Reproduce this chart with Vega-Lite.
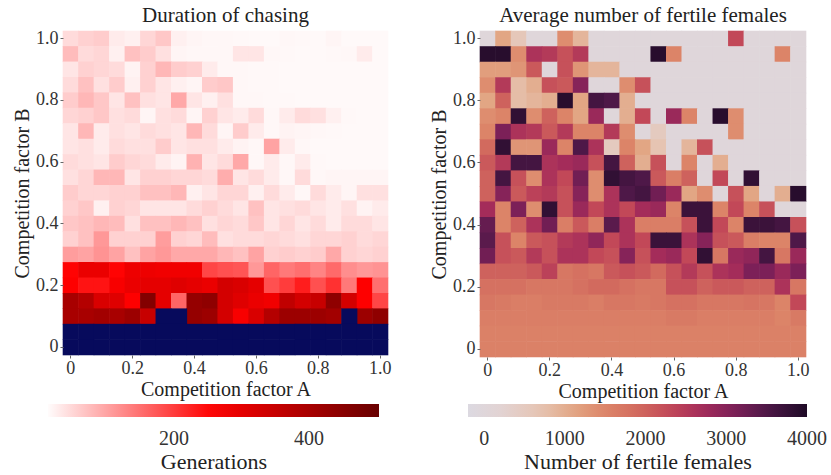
{
"$schema": "https://vega.github.io/schema/vega-lite/v6.json",
"padding": {"left": 12, "top": 5, "right": 2, "bottom": 0},
"data": {"values": [
{"a":0,"b":1,"g":45,"f":0},{"a":0.05,"b":1,"g":55,"f":1100},{"a":0.1,"b":1,"g":60,"f":600},{"a":0.15,"b":1,"g":30,"f":0},{"a":0.2,"b":1,"g":25,"f":0},{"a":0.25,"b":1,"g":50,"f":1400},{"a":0.3,"b":1,"g":65,"f":900},{"a":0.35,"b":1,"g":25,"f":0},{"a":0.4,"b":1,"g":20,"f":0},{"a":0.45,"b":1,"g":18,"f":0},{"a":0.5,"b":1,"g":18,"f":0},{"a":0.55,"b":1,"g":17,"f":0},{"a":0.6,"b":1,"g":16,"f":0},{"a":0.65,"b":1,"g":16,"f":0},{"a":0.7,"b":1,"g":18,"f":0},{"a":0.75,"b":1,"g":17,"f":0},{"a":0.8,"b":1,"g":16,"f":2300},{"a":0.85,"b":1,"g":20,"f":0},{"a":0.9,"b":1,"g":16,"f":0},{"a":0.95,"b":1,"g":16,"f":0},{"a":1,"b":1,"g":16,"f":0},
{"a":0,"b":0.95,"g":75,"f":3900},{"a":0.05,"b":0.95,"g":45,"f":3900},{"a":0.1,"b":0.95,"g":50,"f":1400},{"a":0.15,"b":0.95,"g":25,"f":2600},{"a":0.2,"b":0.95,"g":70,"f":2500},{"a":0.25,"b":0.95,"g":60,"f":2200},{"a":0.3,"b":0.95,"g":40,"f":2500},{"a":0.35,"b":0.95,"g":20,"f":0},{"a":0.4,"b":0.95,"g":18,"f":0},{"a":0.45,"b":0.95,"g":18,"f":0},{"a":0.5,"b":0.95,"g":18,"f":0},{"a":0.55,"b":0.95,"g":35,"f":3900},{"a":0.6,"b":0.95,"g":35,"f":1500},{"a":0.65,"b":0.95,"g":18,"f":0},{"a":0.7,"b":0.95,"g":17,"f":0},{"a":0.75,"b":0.95,"g":16,"f":0},{"a":0.8,"b":0.95,"g":16,"f":0},{"a":0.85,"b":0.95,"g":17,"f":0},{"a":0.9,"b":0.95,"g":18,"f":0},{"a":0.95,"b":0.95,"g":30,"f":1500},{"a":1,"b":0.95,"g":16,"f":0},
{"a":0,"b":0.9,"g":35,"f":1200},{"a":0.05,"b":0.9,"g":55,"f":1200},{"a":0.1,"b":0.9,"g":50,"f":1300},{"a":0.15,"b":0.9,"g":45,"f":2100},{"a":0.2,"b":0.9,"g":22,"f":0},{"a":0.25,"b":0.9,"g":55,"f":2200},{"a":0.3,"b":0.9,"g":80,"f":1300},{"a":0.35,"b":0.9,"g":60,"f":900},{"a":0.4,"b":0.9,"g":55,"f":900},{"a":0.45,"b":0.9,"g":30,"f":0},{"a":0.5,"b":0.9,"g":18,"f":0},{"a":0.55,"b":0.9,"g":18,"f":0},{"a":0.6,"b":0.9,"g":17,"f":0},{"a":0.65,"b":0.9,"g":17,"f":0},{"a":0.7,"b":0.9,"g":16,"f":0},{"a":0.75,"b":0.9,"g":16,"f":0},{"a":0.8,"b":0.9,"g":16,"f":0},{"a":0.85,"b":0.9,"g":16,"f":0},{"a":0.9,"b":0.9,"g":16,"f":0},{"a":0.95,"b":0.9,"g":16,"f":0},{"a":1,"b":0.9,"g":16,"f":0},
{"a":0,"b":0.85,"g":45,"f":1400},{"a":0.05,"b":0.85,"g":70,"f":2500},{"a":0.1,"b":0.85,"g":40,"f":800},{"a":0.15,"b":0.85,"g":60,"f":1000},{"a":0.2,"b":0.85,"g":25,"f":2200},{"a":0.25,"b":0.85,"g":55,"f":2100},{"a":0.3,"b":0.85,"g":35,"f":3000},{"a":0.35,"b":0.85,"g":25,"f":0},{"a":0.4,"b":0.85,"g":20,"f":0},{"a":0.45,"b":0.85,"g":60,"f":1400},{"a":0.5,"b":0.85,"g":65,"f":2200},{"a":0.55,"b":0.85,"g":18,"f":0},{"a":0.6,"b":0.85,"g":17,"f":0},{"a":0.65,"b":0.85,"g":17,"f":0},{"a":0.7,"b":0.85,"g":16,"f":0},{"a":0.75,"b":0.85,"g":16,"f":0},{"a":0.8,"b":0.85,"g":16,"f":0},{"a":0.85,"b":0.85,"g":16,"f":0},{"a":0.9,"b":0.85,"g":16,"f":0},{"a":0.95,"b":0.85,"g":16,"f":0},{"a":1,"b":0.85,"g":16,"f":0},
{"a":0,"b":0.8,"g":60,"f":1100},{"a":0.05,"b":0.8,"g":80,"f":2000},{"a":0.1,"b":0.8,"g":65,"f":800},{"a":0.15,"b":0.8,"g":35,"f":900},{"a":0.2,"b":0.8,"g":70,"f":1000},{"a":0.25,"b":0.8,"g":40,"f":3900},{"a":0.3,"b":0.8,"g":35,"f":1100},{"a":0.35,"b":0.8,"g":95,"f":3600},{"a":0.4,"b":0.8,"g":35,"f":3500},{"a":0.45,"b":0.8,"g":25,"f":1000},{"a":0.5,"b":0.8,"g":40,"f":0},{"a":0.55,"b":0.8,"g":18,"f":0},{"a":0.6,"b":0.8,"g":18,"f":0},{"a":0.65,"b":0.8,"g":17,"f":0},{"a":0.7,"b":0.8,"g":17,"f":0},{"a":0.75,"b":0.8,"g":16,"f":0},{"a":0.8,"b":0.8,"g":16,"f":0},{"a":0.85,"b":0.8,"g":16,"f":0},{"a":0.9,"b":0.8,"g":16,"f":0},{"a":0.95,"b":0.8,"g":16,"f":0},{"a":1,"b":0.8,"g":16,"f":0},
{"a":0,"b":0.75,"g":50,"f":1400},{"a":0.05,"b":0.75,"g":55,"f":1500},{"a":0.1,"b":0.75,"g":65,"f":3800},{"a":0.15,"b":0.75,"g":40,"f":1400},{"a":0.2,"b":0.75,"g":45,"f":2000},{"a":0.25,"b":0.75,"g":20,"f":1500},{"a":0.3,"b":0.75,"g":40,"f":1100},{"a":0.35,"b":0.75,"g":45,"f":2800},{"a":0.4,"b":0.75,"g":20,"f":0},{"a":0.45,"b":0.75,"g":55,"f":1000},{"a":0.5,"b":0.75,"g":35,"f":2300},{"a":0.55,"b":0.75,"g":30,"f":0},{"a":0.6,"b":0.75,"g":45,"f":2800},{"a":0.65,"b":0.75,"g":18,"f":1500},{"a":0.7,"b":0.75,"g":30,"f":0},{"a":0.75,"b":0.75,"g":45,"f":3900},{"a":0.8,"b":0.75,"g":40,"f":1400},{"a":0.85,"b":0.75,"g":25,"f":0},{"a":0.9,"b":0.75,"g":17,"f":0},{"a":0.95,"b":0.75,"g":16,"f":0},{"a":1,"b":0.75,"g":16,"f":0},
{"a":0,"b":0.7,"g":35,"f":1500},{"a":0.05,"b":0.7,"g":80,"f":3100},{"a":0.1,"b":0.7,"g":30,"f":2600},{"a":0.15,"b":0.7,"g":40,"f":2500},{"a":0.2,"b":0.7,"g":35,"f":2100},{"a":0.25,"b":0.7,"g":45,"f":2500},{"a":0.3,"b":0.7,"g":40,"f":1500},{"a":0.35,"b":0.7,"g":35,"f":1500},{"a":0.4,"b":0.7,"g":80,"f":2500},{"a":0.45,"b":0.7,"g":45,"f":1400},{"a":0.5,"b":0.7,"g":20,"f":0},{"a":0.55,"b":0.7,"g":60,"f":500},{"a":0.6,"b":0.7,"g":30,"f":0},{"a":0.65,"b":0.7,"g":18,"f":0},{"a":0.7,"b":0.7,"g":22,"f":0},{"a":0.75,"b":0.7,"g":20,"f":0},{"a":0.8,"b":0.7,"g":18,"f":1400},{"a":0.85,"b":0.7,"g":17,"f":0},{"a":0.9,"b":0.7,"g":16,"f":0},{"a":0.95,"b":0.7,"g":16,"f":0},{"a":1,"b":0.7,"g":16,"f":0},
{"a":0,"b":0.65,"g":35,"f":1900},{"a":0.05,"b":0.65,"g":40,"f":3800},{"a":0.1,"b":0.65,"g":30,"f":1300},{"a":0.15,"b":0.65,"g":45,"f":1300},{"a":0.2,"b":0.65,"g":40,"f":2800},{"a":0.25,"b":0.65,"g":40,"f":1500},{"a":0.3,"b":0.65,"g":60,"f":3500},{"a":0.35,"b":0.65,"g":35,"f":2600},{"a":0.4,"b":0.65,"g":40,"f":500},{"a":0.45,"b":0.65,"g":40,"f":1500},{"a":0.5,"b":0.65,"g":30,"f":1100},{"a":0.55,"b":0.65,"g":22,"f":700},{"a":0.6,"b":0.65,"g":18,"f":0},{"a":0.65,"b":0.65,"g":100,"f":900},{"a":0.7,"b":0.65,"g":30,"f":2200},{"a":0.75,"b":0.65,"g":18,"f":0},{"a":0.8,"b":0.65,"g":16,"f":0},{"a":0.85,"b":0.65,"g":16,"f":0},{"a":0.9,"b":0.65,"g":16,"f":0},{"a":0.95,"b":0.65,"g":16,"f":0},{"a":1,"b":0.65,"g":16,"f":0},
{"a":0,"b":0.6,"g":45,"f":2100},{"a":0.05,"b":0.6,"g":40,"f":2500},{"a":0.1,"b":0.6,"g":35,"f":3600},{"a":0.15,"b":0.6,"g":60,"f":3600},{"a":0.2,"b":0.6,"g":50,"f":2600},{"a":0.25,"b":0.6,"g":45,"f":2700},{"a":0.3,"b":0.6,"g":30,"f":2800},{"a":0.35,"b":0.6,"g":22,"f":2200},{"a":0.4,"b":0.6,"g":85,"f":3600},{"a":0.45,"b":0.6,"g":35,"f":2000},{"a":0.5,"b":0.6,"g":45,"f":1000},{"a":0.55,"b":0.6,"g":95,"f":2200},{"a":0.6,"b":0.6,"g":18,"f":0},{"a":0.65,"b":0.6,"g":30,"f":1500},{"a":0.7,"b":0.6,"g":18,"f":0},{"a":0.75,"b":0.6,"g":30,"f":1000},{"a":0.8,"b":0.6,"g":17,"f":0},{"a":0.85,"b":0.6,"g":16,"f":0},{"a":0.9,"b":0.6,"g":16,"f":0},{"a":0.95,"b":0.6,"g":16,"f":0},{"a":1,"b":0.6,"g":16,"f":0},
{"a":0,"b":0.55,"g":40,"f":2000},{"a":0.05,"b":0.55,"g":50,"f":3600},{"a":0.1,"b":0.55,"g":80,"f":2200},{"a":0.15,"b":0.55,"g":80,"f":1400},{"a":0.2,"b":0.55,"g":35,"f":2600},{"a":0.25,"b":0.55,"g":55,"f":2300},{"a":0.3,"b":0.55,"g":55,"f":3200},{"a":0.35,"b":0.55,"g":50,"f":1400},{"a":0.4,"b":0.55,"g":50,"f":3800},{"a":0.45,"b":0.55,"g":45,"f":3600},{"a":0.5,"b":0.55,"g":90,"f":3500},{"a":0.55,"b":0.55,"g":35,"f":2100},{"a":0.6,"b":0.55,"g":45,"f":1600},{"a":0.65,"b":0.55,"g":30,"f":2000},{"a":0.7,"b":0.55,"g":18,"f":0},{"a":0.75,"b":0.55,"g":45,"f":2300},{"a":0.8,"b":0.55,"g":18,"f":0},{"a":0.85,"b":0.55,"g":20,"f":3800},{"a":0.9,"b":0.55,"g":20,"f":0},{"a":0.95,"b":0.55,"g":20,"f":0},{"a":1,"b":0.55,"g":20,"f":0},
{"a":0,"b":0.5,"g":60,"f":2000},{"a":0.05,"b":0.5,"g":50,"f":3000},{"a":0.1,"b":0.5,"g":50,"f":2100},{"a":0.15,"b":0.5,"g":55,"f":2400},{"a":0.2,"b":0.5,"g":55,"f":2500},{"a":0.25,"b":0.5,"g":70,"f":2200},{"a":0.3,"b":0.5,"g":70,"f":3000},{"a":0.35,"b":0.5,"g":80,"f":1400},{"a":0.4,"b":0.5,"g":25,"f":2600},{"a":0.45,"b":0.5,"g":35,"f":3500},{"a":0.5,"b":0.5,"g":50,"f":3600},{"a":0.55,"b":0.5,"g":50,"f":3200},{"a":0.6,"b":0.5,"g":25,"f":2800},{"a":0.65,"b":0.5,"g":45,"f":1100},{"a":0.7,"b":0.5,"g":30,"f":1400},{"a":0.75,"b":0.5,"g":18,"f":0},{"a":0.8,"b":0.5,"g":45,"f":2200},{"a":0.85,"b":0.5,"g":30,"f":1100},{"a":0.9,"b":0.5,"g":20,"f":0},{"a":0.95,"b":0.5,"g":40,"f":1000},{"a":1,"b":0.5,"g":40,"f":3900},
{"a":0,"b":0.45,"g":55,"f":2700},{"a":0.05,"b":0.45,"g":65,"f":1500},{"a":0.1,"b":0.45,"g":25,"f":3100},{"a":0.15,"b":0.45,"g":55,"f":1400},{"a":0.2,"b":0.45,"g":50,"f":3800},{"a":0.25,"b":0.45,"g":35,"f":2200},{"a":0.3,"b":0.45,"g":35,"f":2800},{"a":0.35,"b":0.45,"g":35,"f":2300},{"a":0.4,"b":0.45,"g":45,"f":2600},{"a":0.45,"b":0.45,"g":55,"f":2300},{"a":0.5,"b":0.45,"g":45,"f":2700},{"a":0.55,"b":0.45,"g":35,"f":2800},{"a":0.6,"b":0.45,"g":70,"f":1500},{"a":0.65,"b":0.45,"g":35,"f":3700},{"a":0.7,"b":0.45,"g":40,"f":3700},{"a":0.75,"b":0.45,"g":45,"f":1500},{"a":0.8,"b":0.45,"g":35,"f":2300},{"a":0.85,"b":0.45,"g":30,"f":1500},{"a":0.9,"b":0.45,"g":40,"f":2200},{"a":0.95,"b":0.45,"g":22,"f":0},{"a":1,"b":0.45,"g":30,"f":0},
{"a":0,"b":0.4,"g":65,"f":3300},{"a":0.05,"b":0.4,"g":70,"f":1500},{"a":0.1,"b":0.4,"g":80,"f":2000},{"a":0.15,"b":0.4,"g":75,"f":2600},{"a":0.2,"b":0.4,"g":40,"f":3200},{"a":0.25,"b":0.4,"g":70,"f":1600},{"a":0.3,"b":0.4,"g":70,"f":2100},{"a":0.35,"b":0.4,"g":80,"f":1600},{"a":0.4,"b":0.4,"g":70,"f":3400},{"a":0.45,"b":0.4,"g":40,"f":2600},{"a":0.5,"b":0.4,"g":50,"f":1600},{"a":0.55,"b":0.4,"g":45,"f":1600},{"a":0.6,"b":0.4,"g":65,"f":1600},{"a":0.65,"b":0.4,"g":35,"f":2200},{"a":0.7,"b":0.4,"g":50,"f":3700},{"a":0.75,"b":0.4,"g":35,"f":2300},{"a":0.8,"b":0.4,"g":45,"f":1500},{"a":0.85,"b":0.4,"g":30,"f":3700},{"a":0.9,"b":0.4,"g":45,"f":3700},{"a":0.95,"b":0.4,"g":45,"f":3600},{"a":1,"b":0.4,"g":35,"f":2200},
{"a":0,"b":0.35,"g":55,"f":3400},{"a":0.05,"b":0.35,"g":70,"f":2200},{"a":0.1,"b":0.35,"g":110,"f":1500},{"a":0.15,"b":0.35,"g":55,"f":2100},{"a":0.2,"b":0.35,"g":55,"f":2200},{"a":0.25,"b":0.35,"g":55,"f":2500},{"a":0.3,"b":0.35,"g":105,"f":2600},{"a":0.35,"b":0.35,"g":55,"f":2900},{"a":0.4,"b":0.35,"g":50,"f":2300},{"a":0.45,"b":0.35,"g":75,"f":2600},{"a":0.5,"b":0.35,"g":40,"f":2300},{"a":0.55,"b":0.35,"g":45,"f":3700},{"a":0.6,"b":0.35,"g":45,"f":3700},{"a":0.65,"b":0.35,"g":50,"f":2600},{"a":0.7,"b":0.35,"g":45,"f":3000},{"a":0.75,"b":0.35,"g":40,"f":2200},{"a":0.8,"b":0.35,"g":50,"f":2100},{"a":0.85,"b":0.35,"g":50,"f":1600},{"a":0.9,"b":0.35,"g":55,"f":1500},{"a":0.95,"b":0.35,"g":45,"f":1500},{"a":1,"b":0.35,"g":50,"f":3500},
{"a":0,"b":0.3,"g":105,"f":3200},{"a":0.05,"b":0.3,"g":100,"f":2200},{"a":0.1,"b":0.3,"g":115,"f":2100},{"a":0.15,"b":0.3,"g":100,"f":2500},{"a":0.2,"b":0.3,"g":70,"f":2200},{"a":0.25,"b":0.3,"g":100,"f":2600},{"a":0.3,"b":0.3,"g":110,"f":2600},{"a":0.35,"b":0.3,"g":95,"f":2300},{"a":0.4,"b":0.3,"g":95,"f":2200},{"a":0.45,"b":0.3,"g":95,"f":3000},{"a":0.5,"b":0.3,"g":80,"f":2200},{"a":0.55,"b":0.3,"g":70,"f":2700},{"a":0.6,"b":0.3,"g":100,"f":2800},{"a":0.65,"b":0.3,"g":55,"f":2300},{"a":0.7,"b":0.3,"g":60,"f":3800},{"a":0.75,"b":0.3,"g":55,"f":1700},{"a":0.8,"b":0.3,"g":60,"f":2800},{"a":0.85,"b":0.3,"g":95,"f":2900},{"a":0.9,"b":0.3,"g":55,"f":3600},{"a":0.95,"b":0.3,"g":50,"f":1700},{"a":1,"b":0.3,"g":55,"f":2800},
{"a":0,"b":0.25,"g":255,"f":2000},{"a":0.05,"b":0.25,"g":290,"f":2000},{"a":0.1,"b":0.25,"g":290,"f":2000},{"a":0.15,"b":0.25,"g":255,"f":2100},{"a":0.2,"b":0.25,"g":285,"f":2400},{"a":0.25,"b":0.25,"g":285,"f":1700},{"a":0.3,"b":0.25,"g":280,"f":1800},{"a":0.35,"b":0.25,"g":280,"f":1700},{"a":0.4,"b":0.25,"g":280,"f":2100},{"a":0.45,"b":0.25,"g":190,"f":2200},{"a":0.5,"b":0.25,"g":180,"f":2100},{"a":0.55,"b":0.25,"g":175,"f":1900},{"a":0.6,"b":0.25,"g":110,"f":2200},{"a":0.65,"b":0.25,"g":160,"f":2500},{"a":0.7,"b":0.25,"g":140,"f":2200},{"a":0.75,"b":0.25,"g":150,"f":2600},{"a":0.8,"b":0.25,"g":130,"f":2700},{"a":0.85,"b":0.25,"g":155,"f":3100},{"a":0.9,"b":0.25,"g":120,"f":3100},{"a":0.95,"b":0.25,"g":110,"f":2800},{"a":1,"b":0.25,"g":115,"f":3100},
{"a":0,"b":0.2,"g":260,"f":1800},{"a":0.05,"b":0.2,"g":240,"f":1800},{"a":0.1,"b":0.2,"g":240,"f":1800},{"a":0.15,"b":0.2,"g":270,"f":1700},{"a":0.2,"b":0.2,"g":290,"f":1700},{"a":0.25,"b":0.2,"g":300,"f":1700},{"a":0.3,"b":0.2,"g":300,"f":1800},{"a":0.35,"b":0.2,"g":310,"f":1900},{"a":0.4,"b":0.2,"g":300,"f":1900},{"a":0.45,"b":0.2,"g":290,"f":1800},{"a":0.5,"b":0.2,"g":330,"f":1700},{"a":0.55,"b":0.2,"g":320,"f":1700},{"a":0.6,"b":0.2,"g":300,"f":2200},{"a":0.65,"b":0.2,"g":180,"f":2200},{"a":0.7,"b":0.2,"g":200,"f":2000},{"a":0.75,"b":0.2,"g":230,"f":2100},{"a":0.8,"b":0.2,"g":180,"f":2100},{"a":0.85,"b":0.2,"g":210,"f":2000},{"a":0.9,"b":0.2,"g":140,"f":2000},{"a":0.95,"b":0.2,"g":260,"f":2600},{"a":1,"b":0.2,"g":150,"f":1700},
{"a":0,"b":0.15,"g":400,"f":1700},{"a":0.05,"b":0.15,"g":380,"f":1650},{"a":0.1,"b":0.15,"g":320,"f":1600},{"a":0.15,"b":0.15,"g":310,"f":1600},{"a":0.2,"b":0.15,"g":260,"f":1650},{"a":0.25,"b":0.15,"g":460,"f":1650},{"a":0.3,"b":0.15,"g":300,"f":1650},{"a":0.35,"b":0.15,"g":160,"f":1600},{"a":0.4,"b":0.15,"g":430,"f":1700},{"a":0.45,"b":0.15,"g":440,"f":1700},{"a":0.5,"b":0.15,"g":330,"f":1650},{"a":0.55,"b":0.15,"g":310,"f":1700},{"a":0.6,"b":0.15,"g":290,"f":1800},{"a":0.65,"b":0.15,"g":280,"f":1800},{"a":0.7,"b":0.15,"g":360,"f":1700},{"a":0.75,"b":0.15,"g":330,"f":1700},{"a":0.8,"b":0.15,"g":350,"f":1700},{"a":0.85,"b":0.15,"g":440,"f":1750},{"a":0.9,"b":0.15,"g":330,"f":1700},{"a":0.95,"b":0.15,"g":260,"f":1500},{"a":1,"b":0.15,"g":190,"f":2300},
{"a":0,"b":0.1,"g":400,"f":1600},{"a":0.05,"b":0.1,"g":400,"f":1600},{"a":0.1,"b":0.1,"g":410,"f":1600},{"a":0.15,"b":0.1,"g":400,"f":1600},{"a":0.2,"b":0.1,"g":420,"f":1600},{"a":0.25,"b":0.1,"g":350,"f":1600},{"a":0.3,"b":0.1,"g":null,"f":1600},{"a":0.35,"b":0.1,"g":null,"f":1600},{"a":0.4,"b":0.1,"g":430,"f":1600},{"a":0.45,"b":0.1,"g":420,"f":1600},{"a":0.5,"b":0.1,"g":330,"f":1600},{"a":0.55,"b":0.1,"g":270,"f":1600},{"a":0.6,"b":0.1,"g":320,"f":1650},{"a":0.65,"b":0.1,"g":380,"f":1650},{"a":0.7,"b":0.1,"g":420,"f":1600},{"a":0.75,"b":0.1,"g":420,"f":1600},{"a":0.8,"b":0.1,"g":420,"f":1600},{"a":0.85,"b":0.1,"g":410,"f":1600},{"a":0.9,"b":0.1,"g":null,"f":1600},{"a":0.95,"b":0.1,"g":420,"f":1500},{"a":1,"b":0.1,"g":440,"f":1650},
{"a":0,"b":0.05,"g":null,"f":1550},{"a":0.05,"b":0.05,"g":null,"f":1550},{"a":0.1,"b":0.05,"g":null,"f":1550},{"a":0.15,"b":0.05,"g":null,"f":1550},{"a":0.2,"b":0.05,"g":null,"f":1550},{"a":0.25,"b":0.05,"g":null,"f":1550},{"a":0.3,"b":0.05,"g":null,"f":1550},{"a":0.35,"b":0.05,"g":null,"f":1550},{"a":0.4,"b":0.05,"g":null,"f":1550},{"a":0.45,"b":0.05,"g":null,"f":1550},{"a":0.5,"b":0.05,"g":null,"f":1550},{"a":0.55,"b":0.05,"g":null,"f":1550},{"a":0.6,"b":0.05,"g":null,"f":1550},{"a":0.65,"b":0.05,"g":null,"f":1550},{"a":0.7,"b":0.05,"g":null,"f":1550},{"a":0.75,"b":0.05,"g":null,"f":1550},{"a":0.8,"b":0.05,"g":null,"f":1550},{"a":0.85,"b":0.05,"g":null,"f":1550},{"a":0.9,"b":0.05,"g":null,"f":1550},{"a":0.95,"b":0.05,"g":null,"f":1550},{"a":1,"b":0.05,"g":null,"f":1550},
{"a":0,"b":0,"g":null,"f":1550},{"a":0.05,"b":0,"g":null,"f":1550},{"a":0.1,"b":0,"g":null,"f":1550},{"a":0.15,"b":0,"g":null,"f":1550},{"a":0.2,"b":0,"g":null,"f":1550},{"a":0.25,"b":0,"g":null,"f":1550},{"a":0.3,"b":0,"g":null,"f":1550},{"a":0.35,"b":0,"g":null,"f":1550},{"a":0.4,"b":0,"g":null,"f":1550},{"a":0.45,"b":0,"g":null,"f":1550},{"a":0.5,"b":0,"g":null,"f":1550},{"a":0.55,"b":0,"g":null,"f":1550},{"a":0.6,"b":0,"g":null,"f":1550},{"a":0.65,"b":0,"g":null,"f":1550},{"a":0.7,"b":0,"g":null,"f":1550},{"a":0.75,"b":0,"g":null,"f":1550},{"a":0.8,"b":0,"g":null,"f":1550},{"a":0.85,"b":0,"g":null,"f":1550},{"a":0.9,"b":0,"g":null,"f":1550},{"a":0.95,"b":0,"g":null,"f":1550},{"a":1,"b":0,"g":null,"f":1550}
]},
"config": {
  "font": "Liberation Serif, serif",
  "view": {"stroke": null},
  "scale": {"bandPaddingInner": 0, "bandPaddingOuter": 0},
  "title": {"font": "Liberation Serif, serif", "fontSize": 21, "fontWeight": "normal", "color": "#222", "offset": 3, "anchor": "middle"},
  "axis": {"labelFont": "Liberation Serif, serif", "titleFont": "Liberation Serif, serif", "labelFontSize": 18, "labelColor": "#333", "titleFontSize": 20, "titleFontWeight": "normal", "titleColor": "#222", "tickSize": 3, "tickColor": "#666", "domain": false, "grid": false, "labelPadding": 2, "titlePadding": 3},
  "axisX": {"labelAngle": 0, "labelPadding": 1, "titlePadding": 2},
  "legend": {"orient": "none", "direction": "horizontal", "padding": 0, "gradientThickness": 13, "gradientStrokeWidth": 0, "labelFont": "Liberation Serif, serif", "titleFont": "Liberation Serif, serif", "labelFontSize": 20, "labelColor": "#333", "titleFontSize": 22, "titleFontWeight": "normal", "titleColor": "#222", "titleOrient": "bottom", "titleAnchor": "middle", "titleLimit": 0, "labelAlign": "center", "titlePadding": 3}
},
"spacing": 37,
"resolve": {"scale": {"color": "independent"}},
"hconcat": [
  {
    "width": 325, "height": 324,
    "title": "Duration of chasing",
    "encoding": {
      "x": {"field": "a", "type": "ordinal", "scale": {"round": false}, "axis": {"values": [0, 0.2, 0.4, 0.6, 0.8, 1], "labelExpr": "datum.value == 1 ? '1.0' : datum.label", "title": "Competition factor A"}},
      "y": {"field": "b", "type": "ordinal", "sort": "descending", "scale": {"round": false}, "axis": {"values": [0, 0.2, 0.4, 0.6, 0.8, 1], "labelExpr": "datum.value == 1 ? '1.0' : datum.label", "title": "Competition factor B"}}
    },
    "layer": [
      {
        "transform": [{"filter": "isValid(datum.g)"}],
        "mark": {"type": "rect", "width": {"band": 1.04}, "height": {"band": 1.04}},
        "encoding": {
          "color": {"field": "g", "type": "quantitative", "scale": {"domain": [13, 258, 504], "range": ["#fffcfc", "#ff0000", "#680000"], "interpolate": "rgb"}, "legend": {"type": "gradient", "title": "Generations", "values": [200, 400], "format": "d", "labelOffset": 12, "legendX": -15, "legendY": 373, "gradientLength": 331, "encode": {"labels": {"update": {"align": {"value": "center"}}}}}}
        }
      },
      {
        "transform": [{"filter": "!isValid(datum.g)"}],
        "mark": {"type": "rect", "color": "#070a5c", "width": {"band": 1.04}, "height": {"band": 1.04}},
        "encoding": {}
      }
    ]
  },
  {
    "width": 326, "height": 326,
    "title": "Average number of fertile females",
    "mark": {"type": "rect", "width": {"band": 1.04}, "height": {"band": 1.04}},
    "encoding": {
      "x": {"field": "a", "type": "ordinal", "scale": {"round": false}, "axis": {"values": [0, 0.2, 0.4, 0.6, 0.8, 1], "labelExpr": "datum.value == 1 ? '1.0' : datum.label", "title": "Competition factor A"}},
      "y": {"field": "b", "type": "ordinal", "sort": "descending", "scale": {"round": false}, "axis": {"values": [0, 0.2, 0.4, 0.6, 0.8, 1], "labelExpr": "datum.value == 1 ? '1.0' : datum.label", "title": "Competition factor B"}},
      "color": {"field": "f", "type": "quantitative", "scale": {"domain": [-200, 200, 700, 1100, 1500, 1900, 2300, 2700, 3100, 3500, 4000], "range": ["#dcd9e1", "#e2d3d3", "#e6c4b2", "#e2a684", "#dc8468", "#d26a5e", "#c24858", "#a42c5a", "#7c2058", "#4e1848", "#1e0a26"], "interpolate": "rgb"}, "legend": {"type": "gradient", "title": "Number of fertile females", "values": [0, 1000, 2000, 3000, 4000], "format": "d", "labelOffset": 12, "legendX": -12, "legendY": 373, "gradientLength": 339, "encode": {"labels": {"update": {"align": {"value": "center"}}}}}}
    }
  }
]
}
